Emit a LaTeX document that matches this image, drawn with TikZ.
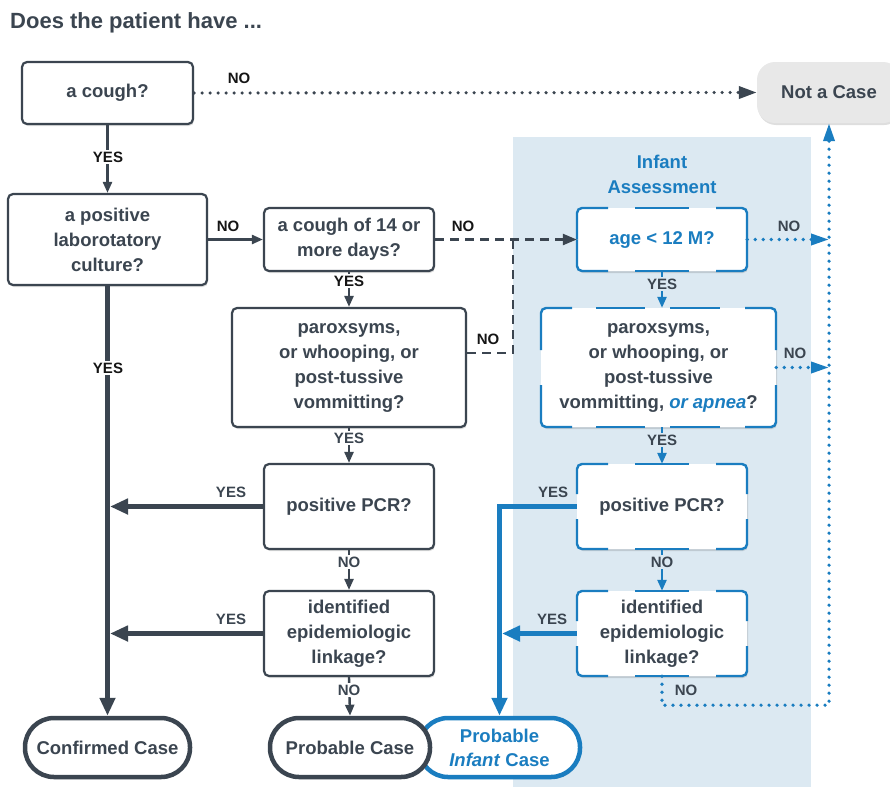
\documentclass[tikz,border=0pt]{standalone}
\usepackage{fontspec}
\setmainfont{Liberation Sans}
\usetikzlibrary{arrows.meta,shadows,calc}
\definecolor{dk}{HTML}{3B4550}
\definecolor{lbk}{HTML}{151515}
\definecolor{bl}{HTML}{1A7DC0}
\definecolor{ibg}{HTML}{DCE9F2}
\definecolor{ncg}{HTML}{E8E8E8}
\tikzset{
  shd/.style={drop shadow={shadow xshift=1pt,shadow yshift=-2pt,opacity=0.13,fill=black}},
  txt/.style={font=\bfseries\fontsize{18.5}{25}\selectfont, align=center, inner sep=0pt},
  qbox/.style={txt, text=dk, draw=dk, line width=2.2pt, rounded corners=5pt, fill=white, shd},
  ibox/.style={txt, text=dk, fill=white, rounded corners=5pt, shd},
  ibord/.style={draw=bl, line width=2.4pt},
  endbox/.style={txt, text=dk, draw=dk, line width=4.5pt, rounded corners=29pt, fill=white, minimum height=59pt, shd},
  lbl/.style={font=\bfseries\fontsize{15}{15}\selectfont, text=dk, inner sep=1.5pt},
  lblk/.style={lbl, text=lbk},
  tarr/.style={draw=dk, line width=2.4pt, -{Triangle[length=11pt,width=9pt]}},
  tarrb/.style={draw=bl, line width=2.4pt, -{Triangle[length=11pt,width=9pt]}},
  karr/.style={draw=dk, line width=5pt, -{Triangle[length=18pt,width=15pt]}},
  karrb/.style={draw=bl, line width=5pt, -{Triangle[length=18pt,width=15pt]}},
  dotd/.style={draw=dk, line width=3.6pt, line cap=round, dash pattern=on 0pt off 8pt},
  dotb/.style={draw=bl, line width=3.6pt, line cap=round, dash pattern=on 0pt off 8pt},
  dashd/.style={draw=dk, line width=2.4pt, dash pattern=on 9pt off 6pt},
}
% dashed blue border: x1 y1 x2 y2 cornerH cornerV hlist vlist
\newcommand\infbord[8]{%
  \draw[ibord,rounded corners=5pt] (#1,#2+#6) -- (#1,#2) -- (#1+#5,#2);
  \draw[ibord,rounded corners=5pt] (#3-#5,#2) -- (#3,#2) -- (#3,#2+#6);
  \draw[ibord,rounded corners=5pt] (#3,#4-#6) -- (#3,#4) -- (#3-#5,#4);
  \draw[ibord,rounded corners=5pt] (#1+#5,#4) -- (#1,#4) -- (#1,#4-#6);
  \foreach \a/\b in {#7}{%
    \draw[ibord] ({#1+\a},#2) -- ({#1+\b},#2);
    \draw[ibord] ({#1+\a},#4) -- ({#1+\b},#4);}
  \foreach \a/\b in {#8}{%
    \draw[ibord] (#1,{#2+\a}) -- (#1,{#2+\b});
    \draw[ibord] (#3,{#2+\a}) -- (#3,{#2+\b});}
}
\begin{document}
\begin{tikzpicture}[x=1pt,y=-1pt]
\useasboundingbox (0,0) rectangle (890,787);
% infant region
\fill[ibg] (513,137) rectangle (811,787);
\node[anchor=west, font=\bfseries\fontsize{22}{24}\selectfont, text=dk, inner sep=0pt] (title) at (10,22.5) {Does the patient have ...};
\node[txt, text=bl] (ititle) at (662,174) {Infant\\Assessment};

% main boxes
\node[qbox, minimum width=171pt, minimum height=62pt] (cough) at (107.5,93) {a cough?};
\node[qbox, minimum width=199pt, minimum height=91pt] (cult) at (107.5,239.5) {a positive\\laborotatory\\culture?};
\node[qbox, minimum width=170pt, minimum height=63pt] (c14) at (349,239.5) {a cough of 14 or\\more days?};
\node[qbox, minimum width=234pt, minimum height=119pt] (parox) at (349,367.5) {paroxsyms,\\or whooping, or\\post-tussive\\vommitting?};
\node[qbox, minimum width=170pt, minimum height=85pt] (pcr) at (349,506.5) {positive PCR?};
\node[qbox, minimum width=170pt, minimum height=85pt] (epi) at (349,633.5) {identified\\epidemiologic\\linkage?};

% infant boxes
\node[ibox, text=bl, minimum width=170pt, minimum height=63pt] (age) at (662,239.5) {age < 12 M?};
\node[ibox, minimum width=235pt, minimum height=119pt] (iparox) at (658.5,367.5) {paroxsyms,\\or whooping, or\\post-tussive\\vommitting, \textcolor{bl}{\itshape or apnea}?};
\node[ibox, minimum width=170pt, minimum height=85pt] (ipcr) at (662,506.5) {positive PCR?};
\node[ibox, minimum width=170pt, minimum height=85pt] (iepi) at (662,633.5) {identified\\epidemiologic\\linkage?};
\infbord{577}{208}{747}{271}{31}{31.5}{58/112}{0/0}
\infbord{541}{308}{776}{427}{31}{42}{55/104,129/179}{0/0}
\infbord{577}{464}{747}{549}{31}{30}{58/112}{0/0}
\infbord{577}{591}{747}{676}{31}{30}{58/112}{0/0}

% not a case
\node[txt, text=dk, fill=ncg, rounded corners=18pt, minimum width=144pt, minimum height=61pt, shd] (nc) at (829,92.5) {Not a Case};

% end nodes
\node[endbox, draw=bl, text=bl, minimum width=161pt, font=\bfseries\fontsize{18.5}{24}\selectfont] (pinf) at (499.5,747.5) {Probable\\\textit{Infant} Case};
\node[endbox, minimum width=160pt] (prob) at (350,747.5) {Probable Case};
\node[endbox, minimum width=165pt] (conf) at (107.5,747.5) {Confirmed Case};

% connectors
\coordinate (jn) at (513,239.5);
\draw[dotd, -{Triangle[length=18pt,width=12pt]}] (cough.east) -- (nc.west);
\draw[tarr] (cough.south) -- (cult.north);
\draw[tarr] (cult.east) -- (c14.west);
\draw[dashd, -{Triangle[length=14pt,width=11pt]}] (c14.east) -- (age.west);
\draw[dashd] ([yshift=14.5pt]parox.east) -| (jn);
\draw[tarr] (c14.south) -- (parox.north);
\draw[tarr] (parox.south) -- (pcr.north);
\draw[tarr] (pcr.south) -- (epi.north);
\draw[tarr] (epi.south) -- (prob.north);
\draw[karr] (cult.south) -- (conf.north);
\draw[karr, shorten >=2.5pt] (pcr.west) -- (pcr.west -| conf.north);
\draw[karr, shorten >=2.5pt] (epi.west) -- (epi.west -| conf.north);

\draw[dotb, -{Triangle[length=18pt,width=11pt]}] (age.east) -- (age.east -| nc.south);
\draw[dotb, -{Triangle[length=18pt,width=11pt]}] (iparox.east) -- (iparox.east -| nc.south);
\draw[dotb, -{Triangle[length=18pt,width=11pt]}] (iepi.south) -- ++(0,29) -| (nc.south);
\draw[tarrb] (age.south) -- (iparox.north -| age.south);
\draw[tarrb] (ipcr.north |- iparox.south) -- (ipcr.north);
\draw[tarrb] (ipcr.south) -- (iepi.north);
\draw[karrb] (ipcr.west) -| (pinf.north);
\draw[karrb, shorten >=2.5pt] (iepi.west) -- (iepi.west -| pinf.north);

% labels
\node[lblk] (l1) at (239,78) {NO};
\node[lblk, fill=white] (l2) at (108,157) {YES};
\node[lblk] (l3) at (228,226) {NO};
\node[lblk] (l4) at (463,226) {NO};
\node[lbl] (l5) at (789,226) {NO};
\node[lblk, fill=white] (l6) at (349,281) {YES};
\node[lbl, fill=ibg] (l7) at (662,284) {YES};
\node[lblk] (l8) at (488,339) {NO};
\node[lbl] (l9) at (795,353) {NO};
\node[lblk, fill=white] (l10) at (108,368) {YES};
\node[lbl, fill=white] (l11) at (349,438) {YES};
\node[lbl, fill=ibg] (l12) at (662,440) {YES};
\node[lbl] (l13) at (231,492) {YES};
\node[lbl] (l14) at (553,492) {YES};
\node[lbl, fill=white] (l15) at (349,562) {NO};
\node[lbl, fill=ibg] (l16) at (662,562) {NO};
\node[lbl] (l17) at (231,619) {YES};
\node[lbl] (l18) at (552,619) {YES};
\node[lbl, fill=white] (l19) at (349,690) {NO};
\node[lbl] (l20) at (686,690) {NO};
\end{tikzpicture}
\end{document}
